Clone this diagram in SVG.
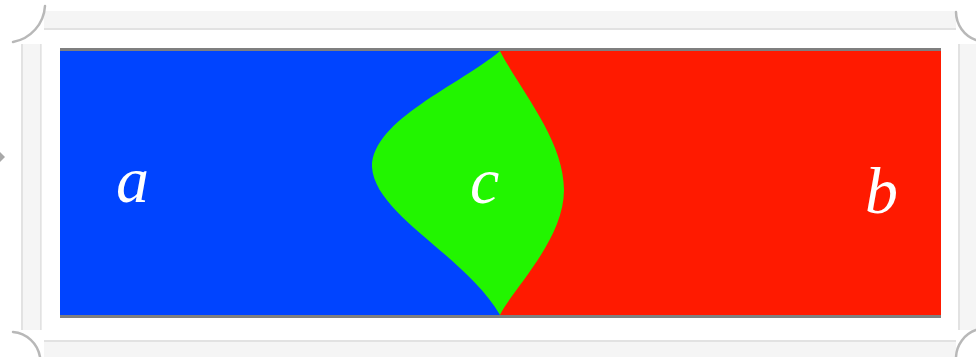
<svg xmlns="http://www.w3.org/2000/svg" width="976" height="357" viewBox="0 0 976 357">
<style>
.bar{fill:#f5f5f5}
.edge{fill:#e2e2e2}
.curl{fill:none;stroke:#b8b8b8;stroke-width:2.5;stroke-linecap:round}
.lbl{font-family:"Liberation Serif","DejaVu Serif",serif;font-style:italic;font-size:66px;fill:#ffffff}
.rule{fill:#7f7f7f}
</style>
<rect width="976" height="357" fill="#ffffff"/>
<g id="frame">
<rect class="bar" x="44" y="11" width="912" height="19"/>
<rect class="edge" x="44" y="28" width="912" height="2"/>
<rect class="bar" x="44" y="340" width="912" height="17"/>
<rect class="edge" x="44" y="340" width="912" height="2"/>
<rect class="bar" x="21" y="44" width="21" height="286"/>
<rect class="edge" x="21" y="44" width="2" height="286"/>
<rect class="edge" x="40" y="44" width="1.5" height="286"/>
<rect class="bar" x="958" y="44" width="18" height="286"/>
<rect class="edge" x="958" y="44" width="2" height="286"/>
<path class="curl" d="M13,42 A39,39 0 0 0 45,6"/>
<path class="curl" d="M956,12 A30,30 0 0 0 976,40"/>
<path class="curl" d="M13,332 A30,30 0 0 1 40,357"/>
<path class="curl" d="M956,357 A30,30 0 0 1 976,330"/>
<polygon points="0,152 5,157 0,162" fill="#a8a8a8"/>
</g>
<g id="panel">
<rect class="rule" x="60" y="48" width="881" height="3"/>
<rect class="rule" x="60" y="315" width="881" height="3"/>
</g>
<g id="a">
<rect x="60" y="51" width="441" height="264" fill="#0044ff"/>
<text class="lbl" x="116" y="202">a</text>
</g>
<g id="b">
<rect x="500" y="51" width="441" height="264" fill="#ff1a00"/>
<text class="lbl" x="865" y="213">b</text>
</g>
<g id="c">
<path d="M500,51 C460,85 372,120 372,167 C375,215 465,255 500,315 C512,290 564,240 564,190 C564,140 520,90 500,51 Z" fill="#22f500"/>
<text class="lbl" x="470" y="203">c</text>
</g>
<g id="connectors"/>
</svg>
